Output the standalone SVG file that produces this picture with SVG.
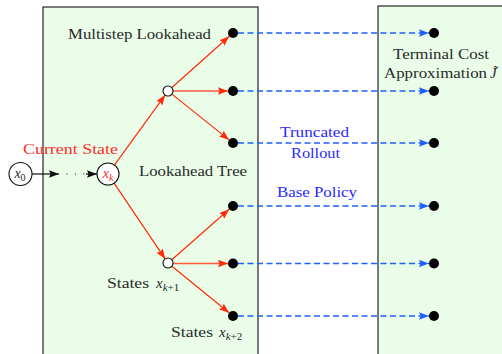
<svg xmlns="http://www.w3.org/2000/svg" width="502" height="354" viewBox="0 0 502 354">
  <style>
    .panel { fill: #e9fde9; stroke: #111; stroke-width: 1.1; }
    .lbl { font-family: 'Liberation Serif', 'DejaVu Serif', serif; font-size: 14px; fill: #2a2a2a; }
    .red { fill: #ff2a2a; }
    .blue { fill: #2a2aff; }
    .m { font-style: italic; }
    .sub { font-size: 10px; }
    .sub2 { font-size: 11px; }
    .tree { stroke: #ff2a0a; stroke-width: 1.2; fill: none; marker-end: url(#redHead); }
    .flat { stroke: #ff5a3c; stroke-width: 1.6; }
    .rollout { stroke: #1f5fff; stroke-width: 1.3; stroke-dasharray: 6 3.5; fill: none; marker-end: url(#blueHead); }
    .chain { stroke: #111; stroke-width: 1.2; fill: none; }
    .state { fill: #fff; stroke: #111; stroke-width: 1.1; }
    .leaf { fill: #000; }
  </style>
  <defs>
    <marker id="redHead" markerUnits="userSpaceOnUse" markerWidth="11" markerHeight="8" refX="10" refY="3.75" orient="auto">
      <path d="M0,0 L10,3.75 L0,7.5 L1.5,3.75 z" fill="#ff2a0a"/>
    </marker>
    <marker id="blueHead" markerUnits="userSpaceOnUse" markerWidth="11" markerHeight="8" refX="10" refY="3.75" orient="auto">
      <path d="M0,0 L10,3.75 L0,7.5 L1.5,3.75 z" fill="#1f5fff"/>
    </marker>
    <marker id="blackHead" markerUnits="userSpaceOnUse" markerWidth="11" markerHeight="8" refX="10" refY="3.75" orient="auto">
      <path d="M0,0 L10,3.75 L0,7.5 L1.5,3.75 z" fill="#111"/>
    </marker>
  </defs>

  <!-- background panels -->
  <rect class="panel" x="43" y="7" width="215" height="360"/>
  <rect class="panel" x="378" y="6" width="140" height="360"/>

  <!-- connectors -->
  <g id="connectors">
    <!-- x0 to xk chain -->
    <line class="chain" x1="32" y1="174" x2="59" y2="174" marker-end="url(#blackHead)"/>
    <line class="chain" x1="67" y1="174" x2="84" y2="174" stroke-dasharray="0.1 8.3" stroke-linecap="round" stroke-width="2"/>
    <line class="chain" x1="86" y1="174" x2="97" y2="174" marker-end="url(#blackHead)"/>
    <!-- first stage -->
    <line class="tree" x1="114.4" y1="165.1" x2="165.1" y2="95.1"/>
    <line class="tree" x1="114.1" y1="183.1" x2="165.2" y2="258.9"/>
    <!-- second stage, upper -->
    <line class="tree" x1="171.7" y1="87.7" x2="229.3" y2="36.3"/>
    <line class="tree flat" x1="173" y1="91" x2="228" y2="91"/>
    <line class="tree" x1="171.9" y1="94.1" x2="229.1" y2="139.9"/>
    <!-- second stage, lower -->
    <line class="tree" x1="171.8" y1="259.7" x2="229.2" y2="209.3"/>
    <line class="tree flat" x1="173" y1="263.5" x2="228" y2="263.5"/>
    <line class="tree" x1="171.9" y1="266.2" x2="229.1" y2="312.8"/>
    <!-- truncated rollouts -->
    <line class="rollout" x1="238" y1="33" x2="429" y2="33"/>
    <line class="rollout" x1="238" y1="91" x2="429" y2="91"/>
    <line class="rollout" x1="238" y1="143" x2="429" y2="143"/>
    <line class="rollout" x1="238" y1="206" x2="429" y2="206"/>
    <line class="rollout" x1="238" y1="263.5" x2="429" y2="263.5"/>
    <line class="rollout" x1="238" y1="316" x2="429" y2="316"/>
  </g>

  <!-- nodes -->
  <g id="x0">
    <circle class="state" cx="20.5" cy="174" r="11.5"/>
    <text class="lbl" x="20" y="178" text-anchor="middle" font-size="15"><tspan class="m">x</tspan><tspan class="sub" dy="3">0</tspan></text>
  </g>
  <g id="xk">
    <circle class="state" cx="108" cy="174" r="11"/>
    <text class="lbl red" x="108" y="178" text-anchor="middle" font-size="15"><tspan class="m">x</tspan><tspan class="sub m" dy="3">k</tspan></text>
  </g>
  <g id="stage1-upper"><circle class="state" cx="168" cy="91" r="5"/></g>
  <g id="stage1-lower"><circle class="state" cx="168" cy="263" r="5"/></g>

  <g id="leaf-1"><circle class="leaf" cx="233" cy="33" r="5"/></g>
  <g id="leaf-2"><circle class="leaf" cx="233" cy="91" r="5"/></g>
  <g id="leaf-3"><circle class="leaf" cx="233" cy="143" r="5"/></g>
  <g id="leaf-4"><circle class="leaf" cx="233" cy="206" r="5"/></g>
  <g id="leaf-5"><circle class="leaf" cx="233" cy="263.5" r="5"/></g>
  <g id="leaf-6"><circle class="leaf" cx="233" cy="316" r="5"/></g>

  <g id="end-1"><circle class="leaf" cx="434" cy="33" r="5"/></g>
  <g id="end-2"><circle class="leaf" cx="434" cy="91" r="5"/></g>
  <g id="end-3"><circle class="leaf" cx="434" cy="143" r="5"/></g>
  <g id="end-4"><circle class="leaf" cx="434" cy="206" r="5"/></g>
  <g id="end-5"><circle class="leaf" cx="434" cy="263.5" r="5"/></g>
  <g id="end-6"><circle class="leaf" cx="434" cy="316" r="5"/></g>

  <!-- labels -->
  <g id="labels">
    <text class="lbl" x="68" y="39" textLength="143" lengthAdjust="spacingAndGlyphs">Multistep Lookahead</text>
    <text class="lbl red" x="23" y="154" textLength="95" lengthAdjust="spacingAndGlyphs">Current State</text>
    <text class="lbl" x="139" y="176" textLength="108" lengthAdjust="spacingAndGlyphs">Lookahead Tree</text>
    <text class="lbl blue" x="280" y="137" textLength="69" lengthAdjust="spacingAndGlyphs">Truncated</text>
    <text class="lbl blue" x="291" y="158" textLength="49" lengthAdjust="spacingAndGlyphs">Rollout</text>
    <text class="lbl blue" x="277" y="197" textLength="80" lengthAdjust="spacingAndGlyphs">Base Policy</text>
    <text class="lbl" x="393" y="59" textLength="96" lengthAdjust="spacingAndGlyphs">Terminal Cost</text>
    <text class="lbl" x="384" y="78"><tspan textLength="103" lengthAdjust="spacingAndGlyphs">Approximation</tspan><tspan class="m" x="490" font-size="15">J&#x303;</tspan></text>
    <text class="lbl" x="107" y="288"><tspan textLength="42" lengthAdjust="spacingAndGlyphs">States</tspan><tspan class="m" x="156" font-size="15">x</tspan><tspan class="sub2" dy="3"><tspan class="m">k</tspan>+1</tspan></text>
    <text class="lbl" x="171" y="337"><tspan textLength="42" lengthAdjust="spacingAndGlyphs">States</tspan><tspan class="m" x="219" font-size="15">x</tspan><tspan class="sub2" dy="3"><tspan class="m">k</tspan>+2</tspan></text>
  </g>
</svg>
